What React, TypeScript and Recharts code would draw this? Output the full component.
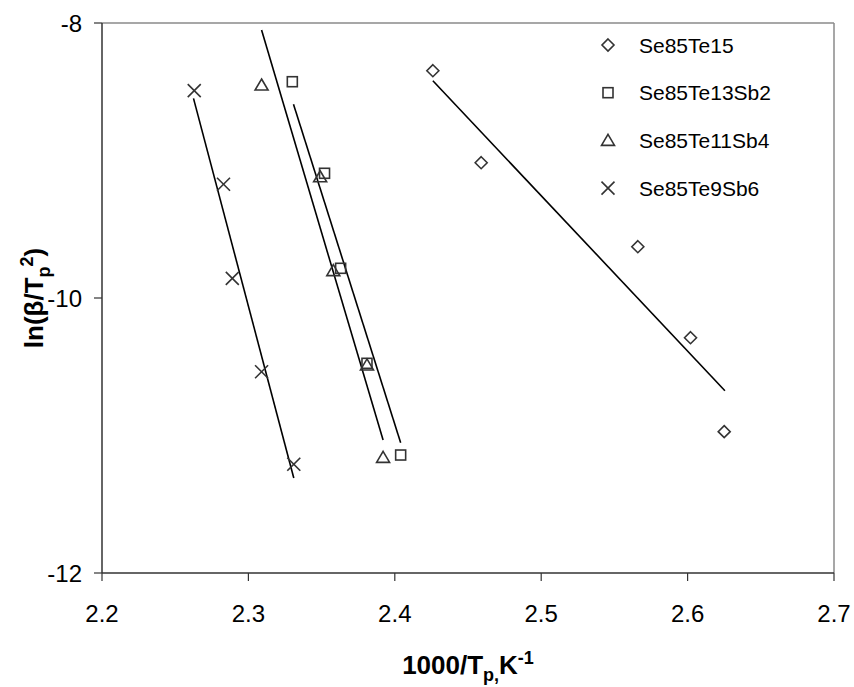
import React from 'react';
import { ScatterChart, Scatter, XAxis, YAxis, ReferenceLine, Label } from 'recharts';

// ---- data ----
const seriesNames = ['Se85Te15', 'Se85Te13Sb2', 'Se85Te11Sb4', 'Se85Te9Sb6'];

const xSe85Te15 = [2.426, 2.459, 2.566, 2.602, 2.625];
const ySe85Te15 = [-8.347, -9.016, -9.627, -10.289, -10.972];

const xSe85Te13Sb2 = [2.330, 2.352, 2.363, 2.381, 2.404];
const ySe85Te13Sb2 = [-8.427, -9.093, -9.784, -10.475, -11.142];

const xSe85Te11Sb4 = [2.309, 2.349, 2.358, 2.381, 2.392];
const ySe85Te11Sb4 = [-8.451, -9.118, -9.801, -10.487, -11.159];

const xSe85Te9Sb6 = [2.263, 2.283, 2.289, 2.309, 2.331];
const ySe85Te9Sb6 = [-8.492, -9.173, -9.857, -10.536, -11.209];

// linear trend line end points
const fitX15 = [2.426, 2.6255];
const fitY15 = [-8.42, -10.674];
const fitX13 = [2.3308, 2.404];
const fitY13 = [-8.591, -11.052];
const fitX11 = [2.309, 2.392];
const fitY11 = [-8.051, -11.033];
const fitX9 = [2.2625, 2.331];
const fitY9 = [-8.548, -11.309];

const xTicks = [2.2, 2.3, 2.4, 2.5, 2.6, 2.7];
const yTicks = [-12, -10, -8];

const toPts = (xs: number[], ys: number[]) => xs.map((x, i) => ({ x, y: ys[i] }));

const FONT = '"Liberation Sans", Arial, sans-serif';
const MARK = '#333333';

type Kind = 'diamond' | 'square' | 'triangle' | 'cross';
const kinds: Kind[] = ['diamond', 'square', 'triangle', 'cross'];

function Marker({ cx, cy, kind }: { cx: number; cy: number; kind: Kind }) {
  const common = { fill: 'none', stroke: MARK, strokeWidth: 1.6 };
  if (kind === 'diamond') {
    const r = 6;
    return <polygon points={`${cx},${cy - r} ${cx + r},${cy} ${cx},${cy + r} ${cx - r},${cy}`} {...common} />;
  }
  if (kind === 'square') {
    const r = 5;
    return <rect x={cx - r} y={cy - r} width={2 * r} height={2 * r} {...common} />;
  }
  if (kind === 'triangle') {
    return <polygon points={`${cx},${cy - 6} ${cx + 6.5},${cy + 5} ${cx - 6.5},${cy + 5}`} {...common} />;
  }
  const r = 6.5;
  return (
    <g {...common}>
      <line x1={cx - r} y1={cy - r} x2={cx + r} y2={cy + r} />
      <line x1={cx - r} y1={cy + r} x2={cx + r} y2={cy - r} />
    </g>
  );
}

const makeShape = (kind: Kind) => (p: any) => <Marker cx={p.cx} cy={p.cy} kind={kind} />;
const noShape = () => <g />;

const XTitle = (props: any) => {
  const vb = props.viewBox || { x: 0, y: 0, width: 0 };
  const cx = vb.x + vb.width / 2;
  return (
    <text x={cx} y={vb.y + 101} textAnchor="middle" fontFamily={FONT} fontWeight="bold" fontSize={26} fill="#000">
      1000/T
      <tspan fontSize={18} dy={7}>p,</tspan>
      <tspan dy={-7}>K</tspan>
      <tspan fontSize={18} dy={-10}>-1</tspan>
    </text>
  );
};

const YTitle = (props: any) => {
  const vb = props.viewBox || { x: 0, y: 0, height: 0 };
  const cx = 43;
  const cy = vb.y + vb.height / 2;
  return (
    <text x={cx} y={cy} transform={`rotate(-90, ${cx}, ${cy})`} textAnchor="middle" fontFamily={FONT} fontWeight="bold" fontSize={26} fill="#000">
      ln(β/T
      <tspan fontSize={18} dy={7}>p</tspan>
      <tspan fontSize={18} dy={-17}>2</tspan>
      <tspan dy={10}>)</tspan>
    </text>
  );
};

const LegendBox = () => (
  <svg width={220} height={180} style={{ display: 'block' }}>
    {seriesNames.map((name, i) => {
      const y = 12 + i * 47.7;
      return (
        <g key={name}>
          <Marker cx={8} cy={y} kind={kinds[i]} />
          <text x={39} y={y} dy="0.36em" fontFamily={FONT} fontSize={21} fill="#000">
            {name}
          </text>
        </g>
      );
    })}
  </svg>
);

export default function App() {
  const data15 = toPts(xSe85Te15, ySe85Te15);
  const data13 = toPts(xSe85Te13Sb2, ySe85Te13Sb2);
  const data11 = toPts(xSe85Te11Sb4, ySe85Te11Sb4);
  const data9 = toPts(xSe85Te9Sb6, ySe85Te9Sb6);
  const lineStyle = { stroke: '#000', strokeWidth: 1.6 };
  const tickStyle = { fontFamily: FONT, fontSize: 24, fill: '#000' };
  return (
    <div style={{ position: 'absolute', left: 0, top: 0, width: 854, height: 687, background: '#fff' }}>
      <ScatterChart width={854} height={687} margin={{ top: 23, right: 20, bottom: 14, left: 22 }}>
        <XAxis
          type="number"
          dataKey="x"
          domain={[2.2, 2.7]}
          ticks={xTicks}
          tickFormatter={(v: number) => v.toFixed(1)}
          allowDataOverflow
          height={100}
          tickSize={8}
          tickMargin={24}
          tick={tickStyle}
          stroke="#333"
          axisLine={{ stroke: '#333', strokeWidth: 1.5 }}
          tickLine={{ stroke: '#333', strokeWidth: 1.2 }}
        >
          <Label content={XTitle} />
        </XAxis>
        <YAxis
          type="number"
          dataKey="y"
          domain={[-12, -8]}
          ticks={yTicks}
          allowDataOverflow
          width={80}
          tickSize={8}
          tickMargin={12}
          tick={tickStyle}
          stroke="#333"
          axisLine={{ stroke: '#333', strokeWidth: 1.5 }}
          tickLine={{ stroke: '#333', strokeWidth: 1.2 }}
        >
          <Label content={YTitle} />
        </YAxis>
        <ReferenceLine y={-8} stroke="#8a8a8a" strokeWidth={1.5} ifOverflow="extendDomain" />
        <ReferenceLine x={2.7} stroke="#8a8a8a" strokeWidth={1.5} ifOverflow="extendDomain" />

        <Scatter data={toPts(fitX15, fitY15)} line={lineStyle} shape={noShape} legendType="none" isAnimationActive={false} />
        <Scatter data={toPts(fitX13, fitY13)} line={lineStyle} shape={noShape} legendType="none" isAnimationActive={false} />
        <Scatter data={toPts(fitX11, fitY11)} line={lineStyle} shape={noShape} legendType="none" isAnimationActive={false} />
        <Scatter data={toPts(fitX9, fitY9)} line={lineStyle} shape={noShape} legendType="none" isAnimationActive={false} />

        <Scatter name={seriesNames[0]} data={data15} shape={makeShape('diamond')} isAnimationActive={false} />
        <Scatter name={seriesNames[1]} data={data13} shape={makeShape('square')} isAnimationActive={false} />
        <Scatter name={seriesNames[2]} data={data11} shape={makeShape('triangle')} isAnimationActive={false} />
        <Scatter name={seriesNames[3]} data={data9} shape={makeShape('cross')} isAnimationActive={false} />
      </ScatterChart>
      <div style={{ position: 'absolute', left: 600, top: 33 }}>
        <LegendBox />
      </div>
    </div>
  );
}
